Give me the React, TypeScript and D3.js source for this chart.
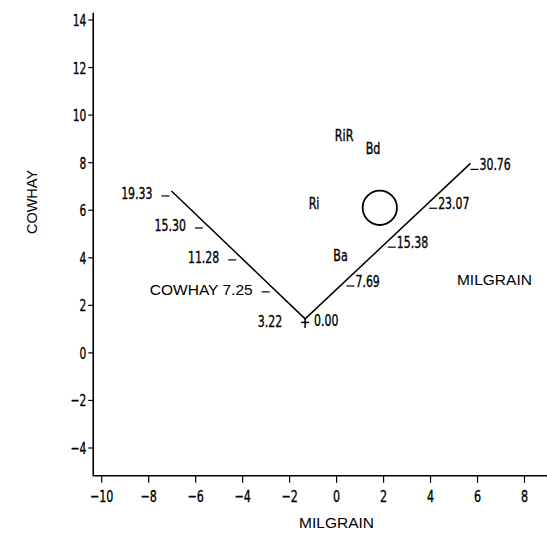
import React from "react"
import * as d3 from "d3"

// Data
const xTicks = [-10, -8, -6, -4, -2, 0, 2, 4, 6, 8]
const yTicks = [-4, -2, 0, 2, 4, 6, 8, 10, 12, 14]

// biplot axes: both start at the common vertex
const vertex = [-1.34, 1.43]
const cowhayEnd = [-7.03, 6.81]
const milgrainEnd = [5.7, 7.97]
const cowhayTicks = [3.22, 7.25, 11.28, 15.3, 19.33]
const milgrainTicks = [0.0, 7.69, 15.38, 23.07, 30.76]

const entryNames = ["RiR", "Bd", "Ri", "Ba"]
const entryX = [0.32, 1.55, -0.96, 0.17]
const entryY = [9.16, 8.6, 6.3, 4.12]

const circleCenter = [1.84, 6.1]
const circleRadius = 0.73
const milgrainLabelPos = [6.72, 3.11]

const cond = "'DejaVu Sans Condensed', 'DejaVu Sans', sans-serif"
const sans = "'Liberation Sans', Arial, sans-serif"

// condensed text, squeezed horizontally like the original font
function CText({ x, y, anchor = "start", size = 16, sx = 0.76, dy = "0", children }: any) {
  return (
    <text
      transform={`translate(${x},${y}) scale(${sx},1)`}
      dy={dy}
      textAnchor={anchor}
      fontFamily={cond}
      fontSize={`${size}px`}
      stroke="black"
      strokeWidth={0.35}
    >
      {children}
    </text>
  )
}

export default function App() {
  // Dimensions
  const totalW = 547
  const totalH = 533

  // Scales
  const x = d3.scaleLinear().domain([-10, 8]).range([101.7, 524.5])
  const y = d3.scaleLinear().domain([-4, 14]).range([448, 20])
  const xMin = -10.36
  const yMin = -5.17
  const yMax = 14.3

  const along = (end: number[], ticks: number[], v: number) => {
    const t = (v - ticks[0]) / (ticks[ticks.length - 1] - ticks[0])
    return [
      x(vertex[0] + t * (end[0] - vertex[0])),
      y(vertex[1] + t * (end[1] - vertex[1]))
    ] as [number, number]
  }

  const line = d3.line()
  const vx = x(vertex[0])
  const vy = y(vertex[1])

  return (
    <svg
      width={totalW}
      height={totalH}
      style={{ position: "absolute", left: 0, top: 0, background: "white" }}
    >
      {/* axes */}
      <path
        d={line([
          [x(xMin), y(yMax)],
          [x(xMin), y(yMin)],
          [totalW, y(yMin)]
        ]) || ""}
        fill="none"
        stroke="black"
        strokeWidth={1.6}
      />
      {yTicks.map(t => (
        <g key={`yt-${t}`}>
          <line x1={x(xMin) - 5} x2={x(xMin)} y1={y(t)} y2={y(t)} stroke="black" strokeWidth={1.2} />
          <CText x={x(xMin) - 7} y={y(t)} dy="0.36em" anchor="end" size={16.5} sx={0.72}>
            {d3.format("")(t)}
          </CText>
        </g>
      ))}
      {xTicks.map(t => (
        <g key={`xt-${t}`}>
          <line x1={x(t)} x2={x(t)} y1={y(yMin)} y2={y(yMin) + 7} stroke="black" strokeWidth={1.2} />
          <CText x={x(t)} y={501.5} anchor="middle" size={16.5} sx={0.75}>
            {d3.format("")(t)}
          </CText>
        </g>
      ))}
      <text x={x(0)} y={528} textAnchor="middle" fontFamily={sans} fontSize="15.5px">
        MILGRAIN
      </text>
      <text
        transform={`translate(37, 202) rotate(-90)`}
        textAnchor="middle"
        fontFamily={sans}
        fontSize="14.5px"
      >
        COWHAY
      </text>

      {/* biplot axes */}
      <path
        d={line([
          along(cowhayEnd, cowhayTicks, cowhayTicks[4]),
          [vx, vy],
          along(milgrainEnd, milgrainTicks, milgrainTicks[4])
        ]) || ""}
        fill="none"
        stroke="black"
        strokeWidth={1.5}
      />
      <line x1={vx} x2={vx} y1={vy} y2={vy + 9} stroke="black" strokeWidth={1.5} />
      <line x1={vx - 4} x2={vx + 4} y1={vy + 3.5} y2={vy + 3.5} stroke="black" strokeWidth={1.5} />

      {cowhayTicks.map((t, i) => {
        const [px, py] = along(cowhayEnd, cowhayTicks, t)
        return (
          <g key={`ct-${t}`}>
            {i > 0 && (
              <line x1={px - 10} x2={px - 2} y1={py + 5} y2={py + 5} stroke="black" strokeWidth={1.2} />
            )}
            {i === 1 ? (
              <text x={px - 19} y={py + 8} textAnchor="end" fontFamily={sans} fontSize="15.5px">
                COWHAY {t.toFixed(2)}
              </text>
            ) : (
              <CText x={px - (i === 0 ? 23 : 19)} y={py + 8} anchor="end" size={16}>
                {t.toFixed(2)}
              </CText>
            )}
          </g>
        )
      })}
      {milgrainTicks.map((t, i) => {
        const [px, py] = along(milgrainEnd, milgrainTicks, t)
        return (
          <g key={`mt-${t}`}>
            {i > 0 && (
              <line x1={px} x2={px + 8} y1={py + 6} y2={py + 6} stroke="black" strokeWidth={1.2} />
            )}
            <CText x={px + 9} y={py + 7} size={16}>
              {t.toFixed(2)}
            </CText>
          </g>
        )
      })}

      {/* entries */}
      {entryNames.map((n, i) => (
        <CText key={n} x={x(entryX[i])} y={y(entryY[i])} dy="0.36em" anchor="middle" size={15.5} sx={0.8}>
          {n}
        </CText>
      ))}
      <circle
        cx={x(circleCenter[0])}
        cy={y(circleCenter[1])}
        r={x(circleCenter[0] + circleRadius) - x(circleCenter[0])}
        fill="none"
        stroke="black"
        strokeWidth={1.8}
      />
      <text
        x={x(milgrainLabelPos[0])}
        y={y(milgrainLabelPos[1])}
        dy="0.36em"
        textAnchor="middle"
        fontFamily={sans}
        fontSize="15.5px"
      >
        MILGRAIN
      </text>
    </svg>
  )
}
